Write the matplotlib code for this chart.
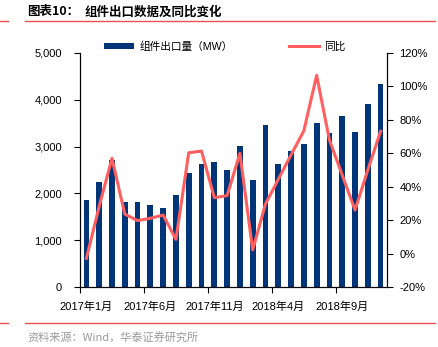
#组件出口数据及同比变化 chart

import numpy as np
import matplotlib.pyplot as plt
from matplotlib.lines import Line2D
from matplotlib.patches import Patch

plt.rcParams['font.family'] = ['Liberation Sans', 'Noto Sans CJK SC']

months = ['2017年1月', '2017年2月', '2017年3月', '2017年4月', '2017年5月', '2017年6月',
          '2017年7月', '2017年8月', '2017年9月', '2017年10月', '2017年11月', '2017年12月',
          '2018年1月', '2018年2月', '2018年3月', '2018年4月', '2018年5月', '2018年6月',
          '2018年7月', '2018年8月', '2018年9月', '2018年10月', '2018年11月', '2018年12月']
export_mw = [1870, 2240, 2720, 1820, 1820, 1760, 1700, 1960, 2445, 2637, 2672, 2509,
             3006, 2285, 3469, 2629, 2900, 3049, 3497, 3284, 3646, 3319, 3916, 4328]
yoy_pct = [-2.7, 28.3, 57.0, 23.7, 19.8, 21.2, 23.1, 8.6, 60.3, 61.3, 33.5, 34.7,
           60.0, 2.3, 29.7, 44.4, 59.0, 73.4, 106.5, 67.9, 47.0, 26.1, 50.0, 73.1]
label_every = 5

bar_color = '#00357A'
line_color = '#FF5F5F'
red = '#E8514E'

fig = plt.figure(figsize=(4.39, 3.47), dpi=100)
ax = fig.add_axes([80/439, 1-287.3/347, 307/439, 234.6/347])
ax2 = ax.twinx()

x = np.arange(len(months))
ax.bar(x, export_mw, width=0.45, color=bar_color, zorder=2)
ax2.plot(x, yoy_pct, color=line_color, lw=2.2, zorder=3)

ax.set_xlim(-0.5, len(months) - 0.5)
ax.set_ylim(0, 5000)
ax.set_yticks(np.arange(0, 5001, 1000))
ax.set_yticklabels([f'{v:,}' for v in range(0, 5001, 1000)])
ax2.set_ylim(-20, 120)
ax2.set_yticks(np.arange(-20, 121, 20))
ax2.set_yticklabels([f'{v}%' for v in range(-20, 121, 20)])

ax.set_xticks(x[::label_every])
ax.set_xticklabels(months[::label_every])
ax.set_xticks(x[::label_every] - 0.5, minor=True)
ax.tick_params(axis='x', which='major', length=0, labelsize=8, pad=10)
ax.tick_params(axis='x', which='minor', length=4, direction='out', width=0.8)
ax.tick_params(axis='y', length=4, width=0.8, labelsize=8, pad=9)
ax2.tick_params(axis='y', length=4, width=0.8, labelsize=8, pad=5)

for a in (ax, ax2):
    a.spines['top'].set_visible(False)
    for s in ('left', 'right', 'bottom'):
        a.spines[s].set_linewidth(0.8)
ax.set_zorder(ax2.get_zorder() - 1)
ax.patch.set_visible(True)
ax2.patch.set_visible(False)

cjk = ['Liberation Sans', 'Noto Sans CJK SC']
h1 = Patch(facecolor=bar_color, edgecolor='none')
fig.legend([h1], ['组件出口量（MW）'], loc='center left', frameon=False,
           bbox_to_anchor=(104/439, 1-46.7/347), borderpad=0, borderaxespad=0,
           handlelength=2.8, handleheight=0.55, handletextpad=0.5,
           prop={'family': cjk, 'size': 7.7})
h2 = Line2D([], [], color=line_color, lw=2.2)
fig.legend([h2], ['同比'], loc='center left', frameon=False,
           bbox_to_anchor=(289/439, 1-46.7/347), borderpad=0, borderaxespad=0,
           handlelength=2.8, handletextpad=0.5, prop={'family': cjk, 'size': 7.7})

fig.text(27/439, 1-12/347, '图表10：', fontsize=9, fontweight='bold',
         family=['Noto Sans CJK SC'], va='center', ha='left')
fig.text(85/439, 1-12/347, '组件出口数据及同比变化', fontsize=9, fontweight='bold',
         family=['Noto Sans CJK SC'], va='center', ha='left')
fig.add_artist(Line2D([25/439, 435/439], [1-21/347, 1-21/347], color=red, lw=1.0))
fig.add_artist(Line2D([0, 8/439], [1-21/347, 1-21/347], color=red, lw=1.0))
fig.add_artist(Line2D([25/439, 435/439], [1-323/347, 1-323/347], color=red, lw=1.0))
fig.add_artist(Line2D([0, 8/439], [1-323/347, 1-323/347], color=red, lw=1.0))
fig.text(27/439, 1-337/347, '资料来源：Wind，华泰证券研究所', fontsize=8, color='#9A9A9A',
         family=['Noto Sans CJK SC'], va='center', ha='left')

fig.savefig('out.png', dpi=100)
